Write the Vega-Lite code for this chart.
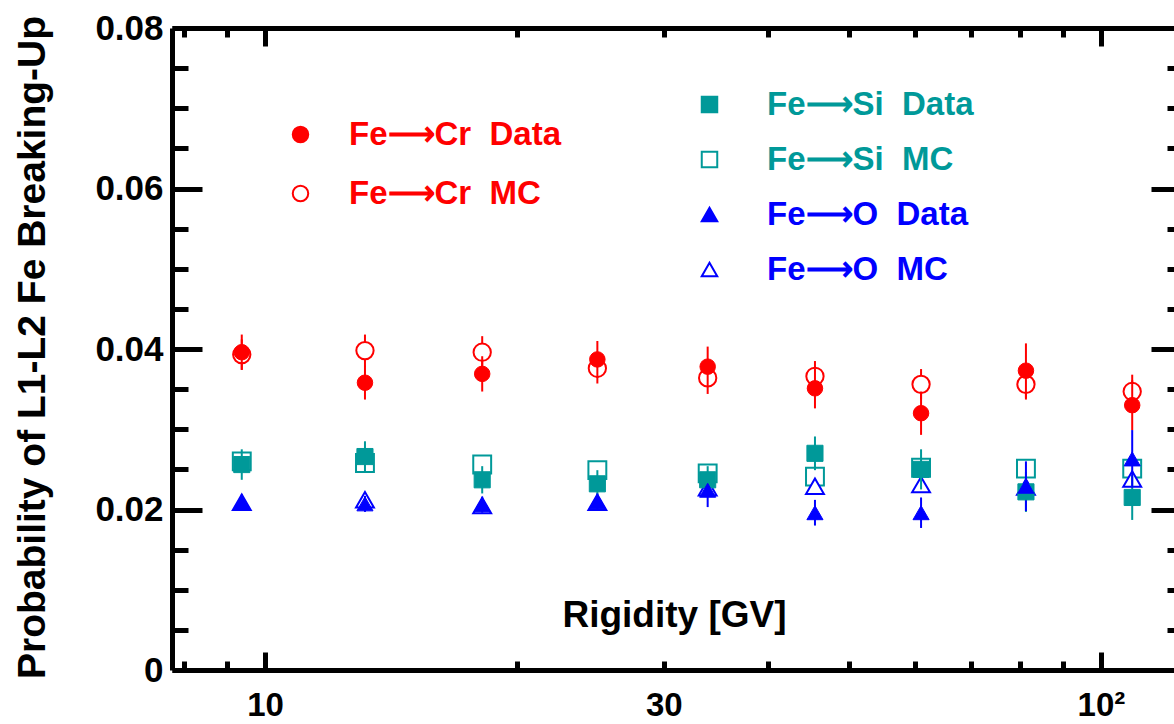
{
  "$schema": "https://vega.github.io/schema/vega-lite/v6.json",
  "width": 1002,
  "height": 642,
  "autosize": {"type": "none"},
  "padding": {"left": 172, "top": 28, "right": 0, "bottom": 54},
  "background": "white",
  "config": {"view": {"stroke": null}, "font": "Liberation Sans"},
  "data": {
    "values": [
      {"R": 9.38, "s": "Fe\u27f6Cr\u00a0\u00a0Data", "g": "Cr", "k": "Data", "v": 0.0396, "lo": 0.0374, "hi": 0.0418},
      {"R": 13.17, "s": "Fe\u27f6Cr\u00a0\u00a0Data", "g": "Cr", "k": "Data", "v": 0.0358, "lo": 0.0337, "hi": 0.0379},
      {"R": 18.19, "s": "Fe\u27f6Cr\u00a0\u00a0Data", "g": "Cr", "k": "Data", "v": 0.0369, "lo": 0.0347, "hi": 0.0391},
      {"R": 24.98, "s": "Fe\u27f6Cr\u00a0\u00a0Data", "g": "Cr", "k": "Data", "v": 0.0387, "lo": 0.0364, "hi": 0.0410},
      {"R": 33.85, "s": "Fe\u27f6Cr\u00a0\u00a0Data", "g": "Cr", "k": "Data", "v": 0.0378, "lo": 0.0353, "hi": 0.0403},
      {"R": 45.49, "s": "Fe\u27f6Cr\u00a0\u00a0Data", "g": "Cr", "k": "Data", "v": 0.0351, "lo": 0.0326, "hi": 0.0376},
      {"R": 60.93, "s": "Fe\u27f6Cr\u00a0\u00a0Data", "g": "Cr", "k": "Data", "v": 0.0320, "lo": 0.0293, "hi": 0.0347},
      {"R": 81.34, "s": "Fe\u27f6Cr\u00a0\u00a0Data", "g": "Cr", "k": "Data", "v": 0.0373, "lo": 0.0339, "hi": 0.0407},
      {"R": 109.0, "s": "Fe\u27f6Cr\u00a0\u00a0Data", "g": "Cr", "k": "Data", "v": 0.0330, "lo": 0.0299, "hi": 0.0361},
      {"R": 9.38, "s": "Fe\u27f6Cr\u00a0\u00a0MC", "g": "Cr", "k": "MC", "v": 0.0393, "lo": 0.0374, "hi": 0.0412},
      {"R": 13.17, "s": "Fe\u27f6Cr\u00a0\u00a0MC", "g": "Cr", "k": "MC", "v": 0.0398, "lo": 0.0378, "hi": 0.0418},
      {"R": 18.19, "s": "Fe\u27f6Cr\u00a0\u00a0MC", "g": "Cr", "k": "MC", "v": 0.0396, "lo": 0.0376, "hi": 0.0416},
      {"R": 24.98, "s": "Fe\u27f6Cr\u00a0\u00a0MC", "g": "Cr", "k": "MC", "v": 0.0376, "lo": 0.0357, "hi": 0.0395},
      {"R": 33.85, "s": "Fe\u27f6Cr\u00a0\u00a0MC", "g": "Cr", "k": "MC", "v": 0.0364, "lo": 0.0344, "hi": 0.0384},
      {"R": 45.49, "s": "Fe\u27f6Cr\u00a0\u00a0MC", "g": "Cr", "k": "MC", "v": 0.0366, "lo": 0.0347, "hi": 0.0385},
      {"R": 60.93, "s": "Fe\u27f6Cr\u00a0\u00a0MC", "g": "Cr", "k": "MC", "v": 0.0356, "lo": 0.0337, "hi": 0.0375},
      {"R": 81.34, "s": "Fe\u27f6Cr\u00a0\u00a0MC", "g": "Cr", "k": "MC", "v": 0.0356, "lo": 0.0337, "hi": 0.0375},
      {"R": 109.0, "s": "Fe\u27f6Cr\u00a0\u00a0MC", "g": "Cr", "k": "MC", "v": 0.0347, "lo": 0.0326, "hi": 0.0368},
      {"R": 9.38, "s": "Fe\u27f6Si\u00a0\u00a0Data", "g": "SiO", "k": "Data", "v": 0.0256, "lo": 0.0237, "hi": 0.0275},
      {"R": 13.17, "s": "Fe\u27f6Si\u00a0\u00a0Data", "g": "SiO", "k": "Data", "v": 0.0266, "lo": 0.0247, "hi": 0.0285},
      {"R": 18.19, "s": "Fe\u27f6Si\u00a0\u00a0Data", "g": "SiO", "k": "Data", "v": 0.0237, "lo": 0.0220, "hi": 0.0254},
      {"R": 24.98, "s": "Fe\u27f6Si\u00a0\u00a0Data", "g": "SiO", "k": "Data", "v": 0.0232, "lo": 0.0215, "hi": 0.0249},
      {"R": 33.85, "s": "Fe\u27f6Si\u00a0\u00a0Data", "g": "SiO", "k": "Data", "v": 0.0237, "lo": 0.0220, "hi": 0.0254},
      {"R": 45.49, "s": "Fe\u27f6Si\u00a0\u00a0Data", "g": "SiO", "k": "Data", "v": 0.0270, "lo": 0.0249, "hi": 0.0291},
      {"R": 60.93, "s": "Fe\u27f6Si\u00a0\u00a0Data", "g": "SiO", "k": "Data", "v": 0.0250, "lo": 0.0225, "hi": 0.0275},
      {"R": 81.34, "s": "Fe\u27f6Si\u00a0\u00a0Data", "g": "SiO", "k": "Data", "v": 0.0222, "lo": 0.0197, "hi": 0.0247},
      {"R": 109.0, "s": "Fe\u27f6Si\u00a0\u00a0Data", "g": "SiO", "k": "Data", "v": 0.0215, "lo": 0.0187, "hi": 0.0243},
      {"R": 9.38, "s": "Fe\u27f6Si\u00a0\u00a0MC", "g": "SiO", "k": "MC", "v": 0.0260, "lo": 0.0250, "hi": 0.0270},
      {"R": 13.17, "s": "Fe\u27f6Si\u00a0\u00a0MC", "g": "SiO", "k": "MC", "v": 0.0258, "lo": 0.0248, "hi": 0.0268},
      {"R": 18.19, "s": "Fe\u27f6Si\u00a0\u00a0MC", "g": "SiO", "k": "MC", "v": 0.0256, "lo": 0.0246, "hi": 0.0266},
      {"R": 24.98, "s": "Fe\u27f6Si\u00a0\u00a0MC", "g": "SiO", "k": "MC", "v": 0.0249, "lo": 0.0239, "hi": 0.0259},
      {"R": 33.85, "s": "Fe\u27f6Si\u00a0\u00a0MC", "g": "SiO", "k": "MC", "v": 0.0245, "lo": 0.0235, "hi": 0.0255},
      {"R": 45.49, "s": "Fe\u27f6Si\u00a0\u00a0MC", "g": "SiO", "k": "MC", "v": 0.0241, "lo": 0.0231, "hi": 0.0251},
      {"R": 60.93, "s": "Fe\u27f6Si\u00a0\u00a0MC", "g": "SiO", "k": "MC", "v": 0.0252, "lo": 0.0242, "hi": 0.0262},
      {"R": 81.34, "s": "Fe\u27f6Si\u00a0\u00a0MC", "g": "SiO", "k": "MC", "v": 0.0251, "lo": 0.0241, "hi": 0.0261},
      {"R": 109.0, "s": "Fe\u27f6Si\u00a0\u00a0MC", "g": "SiO", "k": "MC", "v": 0.0251, "lo": 0.0241, "hi": 0.0261},
      {"R": 9.38, "s": "Fe\u27f6O\u00a0\u00a0Data", "g": "SiO", "k": "Data", "v": 0.0209, "lo": 0.0199, "hi": 0.0219},
      {"R": 13.17, "s": "Fe\u27f6O\u00a0\u00a0Data", "g": "SiO", "k": "Data", "v": 0.0207, "lo": 0.0197, "hi": 0.0217},
      {"R": 18.19, "s": "Fe\u27f6O\u00a0\u00a0Data", "g": "SiO", "k": "Data", "v": 0.0206, "lo": 0.0196, "hi": 0.0216},
      {"R": 24.98, "s": "Fe\u27f6O\u00a0\u00a0Data", "g": "SiO", "k": "Data", "v": 0.0210, "lo": 0.0200, "hi": 0.0220},
      {"R": 33.85, "s": "Fe\u27f6O\u00a0\u00a0Data", "g": "SiO", "k": "Data", "v": 0.0224, "lo": 0.0203, "hi": 0.0245},
      {"R": 45.49, "s": "Fe\u27f6O\u00a0\u00a0Data", "g": "SiO", "k": "Data", "v": 0.0196, "lo": 0.0180, "hi": 0.0212},
      {"R": 60.93, "s": "Fe\u27f6O\u00a0\u00a0Data", "g": "SiO", "k": "Data", "v": 0.0196, "lo": 0.0177, "hi": 0.0215},
      {"R": 81.34, "s": "Fe\u27f6O\u00a0\u00a0Data", "g": "SiO", "k": "Data", "v": 0.0229, "lo": 0.0198, "hi": 0.0260},
      {"R": 109.0, "s": "Fe\u27f6O\u00a0\u00a0Data", "g": "SiO", "k": "Data", "v": 0.0263, "lo": 0.0227, "hi": 0.0299},
      {"R": 9.38, "s": "Fe\u27f6O\u00a0\u00a0MC", "g": "SiO", "k": "MC", "v": 0.0209, "lo": 0.0201, "hi": 0.0217},
      {"R": 13.17, "s": "Fe\u27f6O\u00a0\u00a0MC", "g": "SiO", "k": "MC", "v": 0.0212, "lo": 0.0204, "hi": 0.0220},
      {"R": 18.19, "s": "Fe\u27f6O\u00a0\u00a0MC", "g": "SiO", "k": "MC", "v": 0.0205, "lo": 0.0197, "hi": 0.0213},
      {"R": 24.98, "s": "Fe\u27f6O\u00a0\u00a0MC", "g": "SiO", "k": "MC", "v": 0.0209, "lo": 0.0201, "hi": 0.0217},
      {"R": 33.85, "s": "Fe\u27f6O\u00a0\u00a0MC", "g": "SiO", "k": "MC", "v": 0.0227, "lo": 0.0219, "hi": 0.0235},
      {"R": 45.49, "s": "Fe\u27f6O\u00a0\u00a0MC", "g": "SiO", "k": "MC", "v": 0.0229, "lo": 0.0221, "hi": 0.0237},
      {"R": 60.93, "s": "Fe\u27f6O\u00a0\u00a0MC", "g": "SiO", "k": "MC", "v": 0.0231, "lo": 0.0223, "hi": 0.0239},
      {"R": 81.34, "s": "Fe\u27f6O\u00a0\u00a0MC", "g": "SiO", "k": "MC", "v": 0.0228, "lo": 0.0220, "hi": 0.0236},
      {"R": 109.0, "s": "Fe\u27f6O\u00a0\u00a0MC", "g": "SiO", "k": "MC", "v": 0.0238, "lo": 0.0230, "hi": 0.0246}
    ]
  },
  "resolve": {
    "scale": {"shape": "independent", "fill": "independent", "stroke": "independent"},
    "axis": {"x": "independent", "y": "independent"}
  },
  "layer": [
    {
      "transform": [{"filter": "datum.k == 'MC'"}],
      "mark": {"type": "rule", "strokeWidth": 2},
      "encoding": {
        "x": {
          "field": "R", "type": "quantitative",
          "scale": {"type": "log", "domain": [7.74, 122.3], "nice": false},
          "axis": {
            "orient": "bottom", "values": [10, 30, 100],
            "labelExpr": "datum.value == 10 ? '10' : datum.value == 30 ? '30' : '10\u00b2'",
            "ticks": false, "domain": false, "grid": false,
            "labelFont": "Liberation Sans", "labelFontSize": 33, "labelFontWeight": "bold", "labelColor": "black",
            "labelPadding": 19, "labelOverlap": false, "labelFlush": false,
            "title": "Rigidity [GV]", "titleFont": "Liberation Sans", "titleFontSize": 37, "titleFontWeight": "bold", "titleColor": "black",
            "titleBaseline": "alphabetic", "titleX": 502, "titleY": -44
          }
        },
        "y": {
          "field": "lo", "type": "quantitative",
          "scale": {"domain": [0, 0.08], "nice": false, "zero": false},
          "axis": {
            "orient": "left", "values": [0, 0.02, 0.04, 0.06, 0.08],
            "labelExpr": "datum.value == 0 ? '0' : format(datum.value, '.2f')",
            "ticks": false, "domain": false, "grid": false,
            "labelFont": "Liberation Sans", "labelFontSize": 35, "labelFontWeight": "bold", "labelColor": "black",
            "labelPadding": 9, "labelOverlap": false, "labelFlush": false,
            "title": "Probability of L1-L2 Fe Breaking-Up", "titleFont": "Liberation Sans", "titleFontSize": 39, "titleFontWeight": "bold", "titleColor": "black",
            "titleBaseline": "alphabetic", "titleAngle": 270, "titleX": -128, "titleY": 319
          }
        },
        "y2": {"field": "hi"},
        "color": {
          "field": "s", "type": "nominal", "legend": null,
          "scale": {
            "domain": ["Fe\u27f6Cr\u00a0\u00a0Data", "Fe\u27f6Cr\u00a0\u00a0MC", "Fe\u27f6Si\u00a0\u00a0Data", "Fe\u27f6Si\u00a0\u00a0MC", "Fe\u27f6O\u00a0\u00a0Data", "Fe\u27f6O\u00a0\u00a0MC"],
            "range": ["#ff0000", "#ff0000", "#009999", "#009999", "#0000ff", "#0000ff"]
          }
        }
      }
    },
    {
      "transform": [{"filter": "datum.g == 'Cr'"}],
      "encoding": {
        "x": {
          "field": "R", "type": "quantitative",
          "scale": {"type": "log", "domain": [7.74, 122.3], "nice": false},
          "axis": {
            "orient": "bottom", "values": [8, 9, 10, 20, 30, 40, 50, 60, 70, 80, 90, 100],
            "labels": false, "title": null, "grid": false,
            "domain": true, "domainColor": "black", "domainWidth": 5,
            "ticks": true, "tickColor": "black", "tickWidth": 5,
            "tickSize": {"condition": {"test": "datum.value == 10 || datum.value == 100", "value": -18}, "value": -9}
          }
        }
      },
      "layer": [
        {
          "transform": [{"filter": "datum.k == 'MC'"}],
          "mark": {"type": "point", "filled": true, "size": 300, "strokeWidth": 2, "opacity": 1},
          "encoding": {
            "y": {
              "field": "v", "type": "quantitative",
              "scale": {"domain": [0, 0.08], "nice": false, "zero": false},
              "axis": {
                "orient": "left", "values": [0, 0.005, 0.01, 0.015, 0.02, 0.025, 0.03, 0.035, 0.04, 0.045, 0.05, 0.055, 0.06, 0.065, 0.07, 0.075, 0.08],
                "labels": false, "title": null, "grid": false,
                "domain": true, "domainColor": "black", "domainWidth": 5,
                "ticks": true, "tickColor": "black", "tickWidth": 5,
                "tickSize": {"condition": {"test": "abs(datum.value * 50 - round(datum.value * 50)) < 0.01", "value": -30}, "value": -16}
              }
            },
            "shape": {
              "field": "s", "type": "nominal",
              "scale": {"domain": ["Fe\u27f6Cr\u00a0\u00a0Data", "Fe\u27f6Cr\u00a0\u00a0MC"], "range": ["circle", "circle"]},
              "legend": {"title": null, "orient": "none", "legendX": 112, "legendY": 90, "padding": 0, "symbolSize": 240, "symbolStrokeWidth": 2, "symbolOpacity": 1, "labelFont": "Liberation Sans", "labelFontSize": 33, "labelFontWeight": "bold", "labelColor": "#ff0000", "labelOffset": 32, "labelLimit": 500, "rowPadding": 25}
            },
            "fill": {
              "field": "s", "type": "nominal",
              "scale": {"domain": ["Fe\u27f6Cr\u00a0\u00a0Data", "Fe\u27f6Cr\u00a0\u00a0MC"], "range": ["#ff0000", "#ffffff"]},
              "legend": {"title": null, "orient": "none", "legendX": 112, "legendY": 90, "padding": 0, "symbolSize": 240, "symbolStrokeWidth": 2, "symbolOpacity": 1, "labelFont": "Liberation Sans", "labelFontSize": 33, "labelFontWeight": "bold", "labelColor": "#ff0000", "labelOffset": 32, "labelLimit": 500, "rowPadding": 25}
            },
            "stroke": {
              "field": "s", "type": "nominal",
              "scale": {"domain": ["Fe\u27f6Cr\u00a0\u00a0Data", "Fe\u27f6Cr\u00a0\u00a0MC"], "range": ["#ff0000", "#ff0000"]},
              "legend": {"title": null, "orient": "none", "legendX": 112, "legendY": 90, "padding": 0, "symbolSize": 240, "symbolStrokeWidth": 2, "symbolOpacity": 1, "labelFont": "Liberation Sans", "labelFontSize": 33, "labelFontWeight": "bold", "labelColor": "#ff0000", "labelOffset": 32, "labelLimit": 500, "rowPadding": 25}
            }
          }
        },
        {
          "transform": [{"filter": "datum.k == 'Data'"}],
          "mark": {"type": "rule", "strokeWidth": 2},
          "encoding": {
            "y": {
              "field": "lo", "type": "quantitative",
              "scale": {"domain": [0, 0.08], "nice": false, "zero": false},
              "axis": {
                "orient": "left", "values": [0, 0.005, 0.01, 0.015, 0.02, 0.025, 0.03, 0.035, 0.04, 0.045, 0.05, 0.055, 0.06, 0.065, 0.07, 0.075, 0.08],
                "labels": false, "title": null, "grid": false,
                "domain": true, "domainColor": "black", "domainWidth": 5,
                "ticks": true, "tickColor": "black", "tickWidth": 5,
                "tickSize": {"condition": {"test": "abs(datum.value * 50 - round(datum.value * 50)) < 0.01", "value": -30}, "value": -16}
              }
            },
            "y2": {"field": "hi"},
            "color": {
              "field": "s", "type": "nominal", "legend": null,
              "scale": {
                "domain": ["Fe\u27f6Cr\u00a0\u00a0Data", "Fe\u27f6Cr\u00a0\u00a0MC", "Fe\u27f6Si\u00a0\u00a0Data", "Fe\u27f6Si\u00a0\u00a0MC", "Fe\u27f6O\u00a0\u00a0Data", "Fe\u27f6O\u00a0\u00a0MC"],
                "range": ["#ff0000", "#ff0000", "#009999", "#009999", "#0000ff", "#0000ff"]
              }
            }
          }
        },
        {
          "transform": [{"filter": "datum.k == 'Data'"}],
          "mark": {"type": "point", "filled": true, "size": 240, "strokeWidth": 1, "opacity": 1},
          "encoding": {
            "y": {
              "field": "v", "type": "quantitative",
              "scale": {"domain": [0, 0.08], "nice": false, "zero": false},
              "axis": {
                "orient": "left", "values": [0, 0.005, 0.01, 0.015, 0.02, 0.025, 0.03, 0.035, 0.04, 0.045, 0.05, 0.055, 0.06, 0.065, 0.07, 0.075, 0.08],
                "labels": false, "title": null, "grid": false,
                "domain": true, "domainColor": "black", "domainWidth": 5,
                "ticks": true, "tickColor": "black", "tickWidth": 5,
                "tickSize": {"condition": {"test": "abs(datum.value * 50 - round(datum.value * 50)) < 0.01", "value": -30}, "value": -16}
              }
            },
            "shape": {
              "field": "s", "type": "nominal",
              "scale": {"domain": ["Fe\u27f6Cr\u00a0\u00a0Data", "Fe\u27f6Cr\u00a0\u00a0MC"], "range": ["circle", "circle"]},
              "legend": {"title": null, "orient": "none", "legendX": 112, "legendY": 90, "padding": 0, "symbolSize": 240, "symbolStrokeWidth": 2, "symbolOpacity": 1, "labelFont": "Liberation Sans", "labelFontSize": 33, "labelFontWeight": "bold", "labelColor": "#ff0000", "labelOffset": 32, "labelLimit": 500, "rowPadding": 25}
            },
            "fill": {
              "field": "s", "type": "nominal",
              "scale": {"domain": ["Fe\u27f6Cr\u00a0\u00a0Data", "Fe\u27f6Cr\u00a0\u00a0MC"], "range": ["#ff0000", "#ffffff"]},
              "legend": {"title": null, "orient": "none", "legendX": 112, "legendY": 90, "padding": 0, "symbolSize": 240, "symbolStrokeWidth": 2, "symbolOpacity": 1, "labelFont": "Liberation Sans", "labelFontSize": 33, "labelFontWeight": "bold", "labelColor": "#ff0000", "labelOffset": 32, "labelLimit": 500, "rowPadding": 25}
            },
            "stroke": {
              "field": "s", "type": "nominal",
              "scale": {"domain": ["Fe\u27f6Cr\u00a0\u00a0Data", "Fe\u27f6Cr\u00a0\u00a0MC"], "range": ["#ff0000", "#ff0000"]},
              "legend": {"title": null, "orient": "none", "legendX": 112, "legendY": 90, "padding": 0, "symbolSize": 240, "symbolStrokeWidth": 2, "symbolOpacity": 1, "labelFont": "Liberation Sans", "labelFontSize": 33, "labelFontWeight": "bold", "labelColor": "#ff0000", "labelOffset": 32, "labelLimit": 500, "rowPadding": 25}
            }
          }
        }
      ]
    },
    {
      "transform": [{"filter": "datum.g == 'SiO'"}],
      "encoding": {
        "x": {
          "field": "R", "type": "quantitative",
          "scale": {"type": "log", "domain": [7.74, 122.3], "nice": false},
          "axis": {
            "orient": "top", "values": [8, 9, 10, 20, 30, 40, 50, 60, 70, 80, 90, 100],
            "labels": false, "title": null, "grid": false,
            "domain": true, "domainColor": "black", "domainWidth": 5,
            "ticks": true, "tickColor": "black", "tickWidth": 5,
            "tickSize": {"condition": {"test": "datum.value == 10 || datum.value == 100", "value": -18}, "value": -9}
          }
        }
      },
      "layer": [
        {
          "transform": [{"filter": "datum.k == 'MC'"}],
          "mark": {"type": "point", "filled": true, "size": 320, "strokeWidth": 2, "opacity": 1},
          "encoding": {
            "y": {
              "field": "v", "type": "quantitative",
              "scale": {"domain": [0, 0.08], "nice": false, "zero": false},
              "axis": {
                "orient": "right", "values": [0, 0.005, 0.01, 0.015, 0.02, 0.025, 0.03, 0.035, 0.04, 0.045, 0.05, 0.055, 0.06, 0.065, 0.07, 0.075, 0.08],
                "labels": false, "title": null, "grid": false, "domain": false,
                "ticks": true, "tickColor": "black", "tickWidth": 5,
                "tickSize": {"condition": {"test": "abs(datum.value * 50 - round(datum.value * 50)) < 0.01", "value": -23}, "value": -7}
              }
            },
            "shape": {
              "field": "s", "type": "nominal",
              "scale": {"domain": ["Fe\u27f6Si\u00a0\u00a0Data", "Fe\u27f6Si\u00a0\u00a0MC", "Fe\u27f6O\u00a0\u00a0Data", "Fe\u27f6O\u00a0\u00a0MC"], "range": ["square", "square", "triangle-up", "triangle-up"]},
              "legend": {"title": null, "orient": "none", "legendX": 521, "legendY": 60, "padding": 0, "symbolSize": 240, "symbolStrokeWidth": 2, "symbolOpacity": 1, "labelFont": "Liberation Sans", "labelFontSize": 33, "labelFontWeight": "bold", "labelOffset": 41, "labelLimit": 500, "rowPadding": 21, "encode": {"labels": {"update": {"fill": {"signal": "indexof(datum.label, 'Si') >= 0 ? '#009999' : '#0000ff'"}}}}}
            },
            "fill": {
              "field": "s", "type": "nominal",
              "scale": {"domain": ["Fe\u27f6Si\u00a0\u00a0Data", "Fe\u27f6Si\u00a0\u00a0MC", "Fe\u27f6O\u00a0\u00a0Data", "Fe\u27f6O\u00a0\u00a0MC"], "range": ["#009999", "#ffffff", "#0000ff", "#ffffff"]},
              "legend": {"title": null, "orient": "none", "legendX": 521, "legendY": 60, "padding": 0, "symbolSize": 240, "symbolStrokeWidth": 2, "symbolOpacity": 1, "labelFont": "Liberation Sans", "labelFontSize": 33, "labelFontWeight": "bold", "labelOffset": 41, "labelLimit": 500, "rowPadding": 21, "encode": {"labels": {"update": {"fill": {"signal": "indexof(datum.label, 'Si') >= 0 ? '#009999' : '#0000ff'"}}}}}
            },
            "stroke": {
              "field": "s", "type": "nominal",
              "scale": {"domain": ["Fe\u27f6Si\u00a0\u00a0Data", "Fe\u27f6Si\u00a0\u00a0MC", "Fe\u27f6O\u00a0\u00a0Data", "Fe\u27f6O\u00a0\u00a0MC"], "range": ["#009999", "#009999", "#0000ff", "#0000ff"]},
              "legend": {"title": null, "orient": "none", "legendX": 521, "legendY": 60, "padding": 0, "symbolSize": 240, "symbolStrokeWidth": 2, "symbolOpacity": 1, "labelFont": "Liberation Sans", "labelFontSize": 33, "labelFontWeight": "bold", "labelOffset": 41, "labelLimit": 500, "rowPadding": 21, "encode": {"labels": {"update": {"fill": {"signal": "indexof(datum.label, 'Si') >= 0 ? '#009999' : '#0000ff'"}}}}}
            }
          }
        },
        {
          "transform": [{"filter": "datum.k == 'Data'"}],
          "mark": {"type": "rule", "strokeWidth": 2},
          "encoding": {
            "y": {
              "field": "lo", "type": "quantitative",
              "scale": {"domain": [0, 0.08], "nice": false, "zero": false},
              "axis": {
                "orient": "right", "values": [0, 0.005, 0.01, 0.015, 0.02, 0.025, 0.03, 0.035, 0.04, 0.045, 0.05, 0.055, 0.06, 0.065, 0.07, 0.075, 0.08],
                "labels": false, "title": null, "grid": false, "domain": false,
                "ticks": true, "tickColor": "black", "tickWidth": 5,
                "tickSize": {"condition": {"test": "abs(datum.value * 50 - round(datum.value * 50)) < 0.01", "value": -23}, "value": -7}
              }
            },
            "y2": {"field": "hi"},
            "color": {
              "field": "s", "type": "nominal", "legend": null,
              "scale": {
                "domain": ["Fe\u27f6Cr\u00a0\u00a0Data", "Fe\u27f6Cr\u00a0\u00a0MC", "Fe\u27f6Si\u00a0\u00a0Data", "Fe\u27f6Si\u00a0\u00a0MC", "Fe\u27f6O\u00a0\u00a0Data", "Fe\u27f6O\u00a0\u00a0MC"],
                "range": ["#ff0000", "#ff0000", "#009999", "#009999", "#0000ff", "#0000ff"]
              }
            }
          }
        },
        {
          "transform": [{"filter": "datum.k == 'Data'"}],
          "mark": {"type": "point", "filled": true, "size": 260, "strokeWidth": 1, "opacity": 1},
          "encoding": {
            "y": {
              "field": "v", "type": "quantitative",
              "scale": {"domain": [0, 0.08], "nice": false, "zero": false},
              "axis": {
                "orient": "right", "values": [0, 0.005, 0.01, 0.015, 0.02, 0.025, 0.03, 0.035, 0.04, 0.045, 0.05, 0.055, 0.06, 0.065, 0.07, 0.075, 0.08],
                "labels": false, "title": null, "grid": false, "domain": false,
                "ticks": true, "tickColor": "black", "tickWidth": 5,
                "tickSize": {"condition": {"test": "abs(datum.value * 50 - round(datum.value * 50)) < 0.01", "value": -23}, "value": -7}
              }
            },
            "shape": {
              "field": "s", "type": "nominal",
              "scale": {"domain": ["Fe\u27f6Si\u00a0\u00a0Data", "Fe\u27f6Si\u00a0\u00a0MC", "Fe\u27f6O\u00a0\u00a0Data", "Fe\u27f6O\u00a0\u00a0MC"], "range": ["square", "square", "triangle-up", "triangle-up"]},
              "legend": {"title": null, "orient": "none", "legendX": 521, "legendY": 60, "padding": 0, "symbolSize": 240, "symbolStrokeWidth": 2, "symbolOpacity": 1, "labelFont": "Liberation Sans", "labelFontSize": 33, "labelFontWeight": "bold", "labelOffset": 41, "labelLimit": 500, "rowPadding": 21, "encode": {"labels": {"update": {"fill": {"signal": "indexof(datum.label, 'Si') >= 0 ? '#009999' : '#0000ff'"}}}}}
            },
            "fill": {
              "field": "s", "type": "nominal",
              "scale": {"domain": ["Fe\u27f6Si\u00a0\u00a0Data", "Fe\u27f6Si\u00a0\u00a0MC", "Fe\u27f6O\u00a0\u00a0Data", "Fe\u27f6O\u00a0\u00a0MC"], "range": ["#009999", "#ffffff", "#0000ff", "#ffffff"]},
              "legend": {"title": null, "orient": "none", "legendX": 521, "legendY": 60, "padding": 0, "symbolSize": 240, "symbolStrokeWidth": 2, "symbolOpacity": 1, "labelFont": "Liberation Sans", "labelFontSize": 33, "labelFontWeight": "bold", "labelOffset": 41, "labelLimit": 500, "rowPadding": 21, "encode": {"labels": {"update": {"fill": {"signal": "indexof(datum.label, 'Si') >= 0 ? '#009999' : '#0000ff'"}}}}}
            },
            "stroke": {
              "field": "s", "type": "nominal",
              "scale": {"domain": ["Fe\u27f6Si\u00a0\u00a0Data", "Fe\u27f6Si\u00a0\u00a0MC", "Fe\u27f6O\u00a0\u00a0Data", "Fe\u27f6O\u00a0\u00a0MC"], "range": ["#009999", "#009999", "#0000ff", "#0000ff"]},
              "legend": {"title": null, "orient": "none", "legendX": 521, "legendY": 60, "padding": 0, "symbolSize": 240, "symbolStrokeWidth": 2, "symbolOpacity": 1, "labelFont": "Liberation Sans", "labelFontSize": 33, "labelFontWeight": "bold", "labelOffset": 41, "labelLimit": 500, "rowPadding": 21, "encode": {"labels": {"update": {"fill": {"signal": "indexof(datum.label, 'Si') >= 0 ? '#009999' : '#0000ff'"}}}}}
            }
          }
        }
      ]
    }
  ]
}
